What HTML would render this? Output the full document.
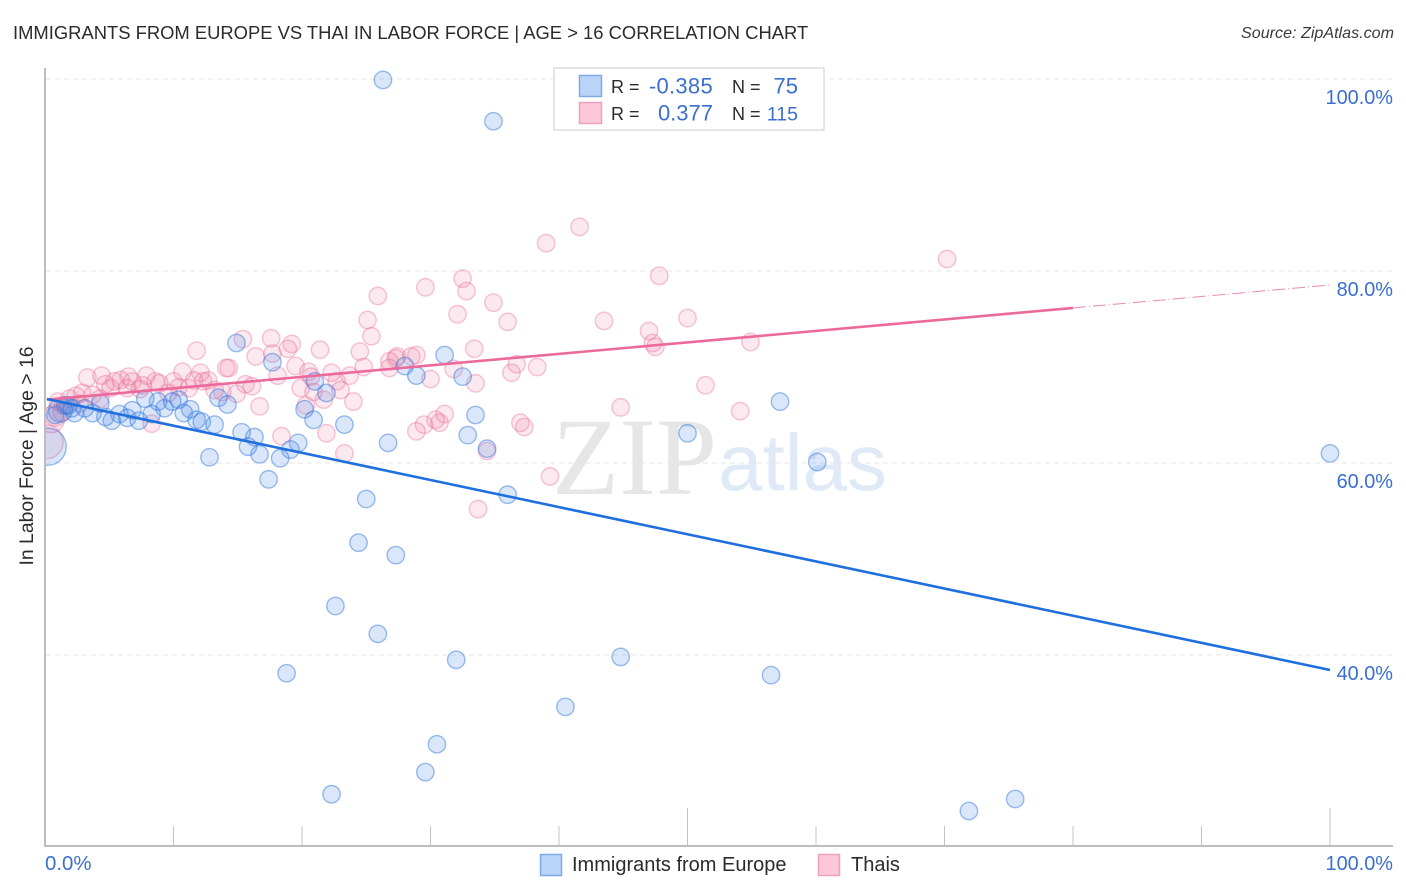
<!DOCTYPE html>
<html lang="en">
<head>
<meta charset="utf-8">
<title>Immigrants from Europe vs Thai in Labor Force | Age > 16 Correlation Chart</title>
<style>
html,body{margin:0;padding:0;background:#fff;}
body{width:1406px;height:892px;overflow:hidden;font-family:"Liberation Sans",sans-serif;}
svg{display:block;}
text{font-family:"Liberation Sans",sans-serif;}
</style>
</head>
<body>
<svg id="chart" xmlns="http://www.w3.org/2000/svg" width="1406" height="892" viewBox="0 0 1406 892">
  <defs><clipPath id="plot-clip"><rect x="46" y="60" width="1360" height="786"/></clipPath></defs>
  <text x="13" y="39" font-size="18.4" fill="#2b2b2b">IMMIGRANTS FROM EUROPE VS THAI IN LABOR FORCE | AGE &gt; 16 CORRELATION CHART</text>
  <text x="1394" y="38" font-size="16.1" font-style="italic" fill="#3a3a3a" text-anchor="end">Source: ZipAtlas.com</text>

  <g>
    <text x="552" y="494" font-size="110" font-weight="400" fill="#e6e6e6" style="font-family:'Liberation Serif',serif">ZIP</text>
    <text x="718" y="490" font-size="80" fill="#e0eaf7">atlas</text>
  </g>

  <g id="grid"></g>
  <g id="points" clip-path="url(#plot-clip)"></g>
  <g id="lines"></g>
  <g id="axes"></g>

  <text transform="translate(33,456) rotate(-90)" font-size="19.4" fill="#2b2b2b" text-anchor="middle">In Labor Force | Age &gt; 16</text>

  <g>
    <rect x="554" y="68" width="270" height="62" fill="#fff" stroke="#dcdcdc" stroke-width="1.5"/>
    <rect x="579.5" y="75.5" width="22" height="21" fill="#b9d4f6" stroke="#7fabe6" stroke-width="1.5"/>
    <rect x="579.5" y="102.5" width="22" height="21" fill="#fcc8d8" stroke="#f0a0bb" stroke-width="1.5"/>
    <text x="611" y="93" font-size="18" fill="#2b2b2b">R =</text>
    <text x="713" y="93.5" font-size="22" letter-spacing="0.3" fill="#3a6fd0" text-anchor="end">-0.385</text>
    <text x="732" y="93" font-size="18" fill="#2b2b2b">N =</text>
    <text x="798" y="93.5" font-size="22" fill="#3a6fd0" text-anchor="end">75</text>
    <text x="611" y="120" font-size="18" fill="#2b2b2b">R =</text>
    <text x="713" y="120.5" font-size="22" fill="#3a6fd0" text-anchor="end">0.377</text>
    <text x="732" y="120" font-size="18" fill="#2b2b2b">N =</text>
    <text x="798" y="120.5" font-size="19.5" fill="#3a6fd0" text-anchor="end">115</text>
  </g>

  <g>
    <rect x="540.5" y="854.5" width="21" height="21" fill="#b9d4f6" stroke="#7fabe6" stroke-width="1.5"/>
    <text x="572" y="871" font-size="20" fill="#2b2b2b">Immigrants from Europe</text>
    <rect x="818.5" y="854.5" width="21" height="21" fill="#fcc8d8" stroke="#f0a0bb" stroke-width="1.5"/>
    <text x="851" y="871" font-size="20" fill="#2b2b2b">Thais</text>
  </g>
</svg>
<script>
const xTickValues = [10,20,30,40,50,60,70,80,90,100];
const xMajorTicks = [50,100];
const yTickValues = [100,80,60,40];
const yTickLabels = ['100.0%','80.0%','60.0%','40.0%'];
const xEndLabels = ['0.0%','100.0%'];

const blueX = [0.2,1.2,26.3,34.9,14.9,31.1,17.7,28.0,28.9,32.5,21.0,21.9,57.2,33.5,20.2,20.9,23.3,14.2,13.5,11.3,10.4,9.3,8.8,7.8,6.8,5.8,6.4,7.3,8.3,5.2,4.7,3.7,4.3,3.1,2.3,1.8,0.8,10.8,11.8,12.2,13.2,15.3,16.3,15.8,16.7,12.8,18.3,19.1,19.7,17.4,26.7,32.9,34.4,50.0,60.1,100,36.0,25.0,24.4,27.3,22.6,25.9,32.0,18.8,44.8,56.5,40.5,30.5,29.6,22.3,75.5,71.9,9.9,1.6,2.1];
const blueY = [61.7,65.5,99.9,95.6,72.5,71.25,70.5,70.1,69.1,69.0,68.5,67.3,66.4,65.0,65.6,64.5,64.0,66.1,66.8,65.6,66.6,65.7,66.4,66.7,65.5,65.1,64.7,64.4,65.1,64.4,64.8,65.2,66.2,65.7,65.2,66.0,65.0,65.2,64.5,64.3,64.0,63.2,62.7,61.7,60.9,60.6,60.5,61.4,62.1,58.3,62.1,62.9,61.5,63.1,60.1,61.0,56.7,56.25,51.7,50.4,45.1,42.2,39.5,38.1,39.8,37.9,34.6,30.7,27.8,25.5,25.0,23.75,66.4,66.0,65.7];
const blueWeights = [4.6,1.9];

const pinkX = [0.1,0.5,0.8,41.6,39.0,70.2,32.5,47.8,32.8,29.6,25.9,34.9,32.1,36.0,43.5,50.0,25.1,47.0,25.4,47.3,47.5,54.9,15.4,17.6,19.2,18.9,21.4,11.8,16.4,17.7,24.5,33.4,27.4,28.5,28.9,27.3,26.8,26.8,19.5,31.8,36.7,38.3,36.3,14.1,14.3,10.7,12.1,24.8,23.7,22.3,20.5,20.7,18.1,30.0,33.5,22.7,51.4,3.3,4.4,7.9,6.5,5.9,5.4,4.7,6.8,5.1,7.6,8.6,8.9,10,11.6,10.4,12.7,12.3,11.2,13.8,13.2,14.9,15.6,16.1,19.9,20.9,23,21.7,24,16.7,44.8,54.1,31.1,30.4,30.7,29.5,28.9,37,37.3,34.4,39.3,33.7,23.3,21.9,18.4,8.3,1.4,1.9,2.4,2.9,3.7,4.3,6.4,9.6,7.4,1.0,20.3,1.3,2.7];
const pinkY = [62.2,64.5,65.0,84.6,82.9,81.25,79.2,79.5,77.9,78.3,77.4,76.7,75.5,74.7,74.8,75.1,74.9,73.75,73.2,72.5,72.1,72.6,72.9,73.0,72.4,71.9,71.8,71.7,71.1,71.4,71.6,71.9,71.1,71.1,71.25,70.9,70.6,69.9,70.1,69.8,70.3,70.0,69.4,69.9,69.9,69.5,69.4,70.0,69.1,69.4,69.5,69.0,69.1,68.75,68.3,68.5,68.1,68.9,69.1,69.1,69.0,68.65,68.5,68.2,68.5,67.8,68.1,68.5,68.3,68.5,68.6,67.9,68.6,68.5,67.8,67.4,67.6,67.2,68.2,68.0,67.8,67.4,67.6,66.6,66.4,65.9,65.8,65.4,65.1,64.5,64.2,64.0,63.3,64.2,63.75,61.25,58.6,55.2,61.0,63.1,62.8,64.1,66.0,66.7,67.0,67.3,67.1,66.7,67.8,67.3,67.7,66.4,66.0,65.3,66.2];
const pinkWeights = [3.8,2.2,1.6];

const blueTrend = [66.67,38.44];
const pinkTrend = [66.6,76.15,78.54];
const pinkTrendSolidEnd = 80;

const NS = 'http://www.w3.org/2000/svg';
const xScale = v => 45 + v * 12.85;
const yScale = v => 79 + (100 - v) * 9.6;
const radius = w => 8.7 * Math.sqrt(w);

function make(tag, attrs, parent, textValue) {
  const el = document.createElementNS(NS, tag);
  Object.keys(attrs).forEach(k => el.setAttribute(k, attrs[k]));
  if (textValue !== undefined) el.textContent = textValue;
  parent.appendChild(el);
  return el;
}

const grid = document.getElementById('grid');
yTickValues.forEach((v, i) => {
  const line = make('line', {x1: 46, x2: 1393, y1: yScale(v), y2: yScale(v), stroke: '#e6e6e6', 'stroke-width': 1, 'stroke-dasharray': '5 4'}, grid);
  
  
  const label = make('text', {x: 1393, y: yScale(v) + 25, 'font-size': 19.9, fill: '#3a6fd0', 'text-anchor': 'end'}, grid, yTickLabels[i]);
  
  
});

const points = document.getElementById('points');
pinkX.forEach((x, i) => {
  const c = make('circle', {cx: xScale(x), cy: yScale(pinkY[i]), r: radius(pinkWeights[i] || 1), fill: 'rgba(240,120,160,0.17)', stroke: 'rgba(236,110,150,0.4)', 'stroke-width': 1.4}, points);
  
  
});
blueX.forEach((x, i) => {
  const c = make('circle', {cx: xScale(x), cy: yScale(blueY[i]), r: radius(blueWeights[i] || 1), fill: 'rgba(70,135,230,0.2)', stroke: 'rgba(50,120,220,0.48)', 'stroke-width': 1.4}, points);
  
  
});

const lines = document.getElementById('lines');
const pinkSolid = make('line', {x1: xScale(0.15), y1: yScale(pinkTrend[0]), x2: xScale(pinkTrendSolidEnd), y2: yScale(pinkTrend[1]), stroke: '#ec6a9b', 'stroke-width': 2.6}, lines);


const pinkDash = make('line', {x1: xScale(pinkTrendSolidEnd), y1: yScale(pinkTrend[1]), x2: xScale(100), y2: yScale(pinkTrend[2]), stroke: '#e88aae', 'stroke-width': 1, 'stroke-dasharray': '13 3 1 3'}, lines);


const blueLine = make('line', {x1: xScale(0.15), y1: yScale(blueTrend[0]), x2: xScale(100), y2: yScale(blueTrend[1]), stroke: '#1f6fdc', 'stroke-width': 2.6}, lines);



const axes = document.getElementById('axes');
const yAxis = make('line', {x1: 45, x2: 45, y1: 68, y2: 847, stroke: '#bdbdbd', 'stroke-width': 2}, axes);


const xAxis = make('line', {x1: 44, x2: 1393, y1: 846, y2: 846, stroke: '#bdbdbd', 'stroke-width': 2}, axes);


xTickValues.forEach(v => {
  const tick = make('line', {x1: xScale(v), x2: xScale(v), y1: xMajorTicks.includes(v) ? 808 : 826, y2: 846, stroke: '#c4c4c4', 'stroke-width': 1}, axes);
  
  
});
const xLabelStart = make('text', {x: 45, y: 870, 'font-size': 20.4, fill: '#3a6fd0'}, axes, xEndLabels[0]);


const xLabelEnd = make('text', {x: 1393, y: 870, 'font-size': 19.9, fill: '#3a6fd0', 'text-anchor': 'end'}, axes, xEndLabels[1]);


</script>
</body>
</html>
